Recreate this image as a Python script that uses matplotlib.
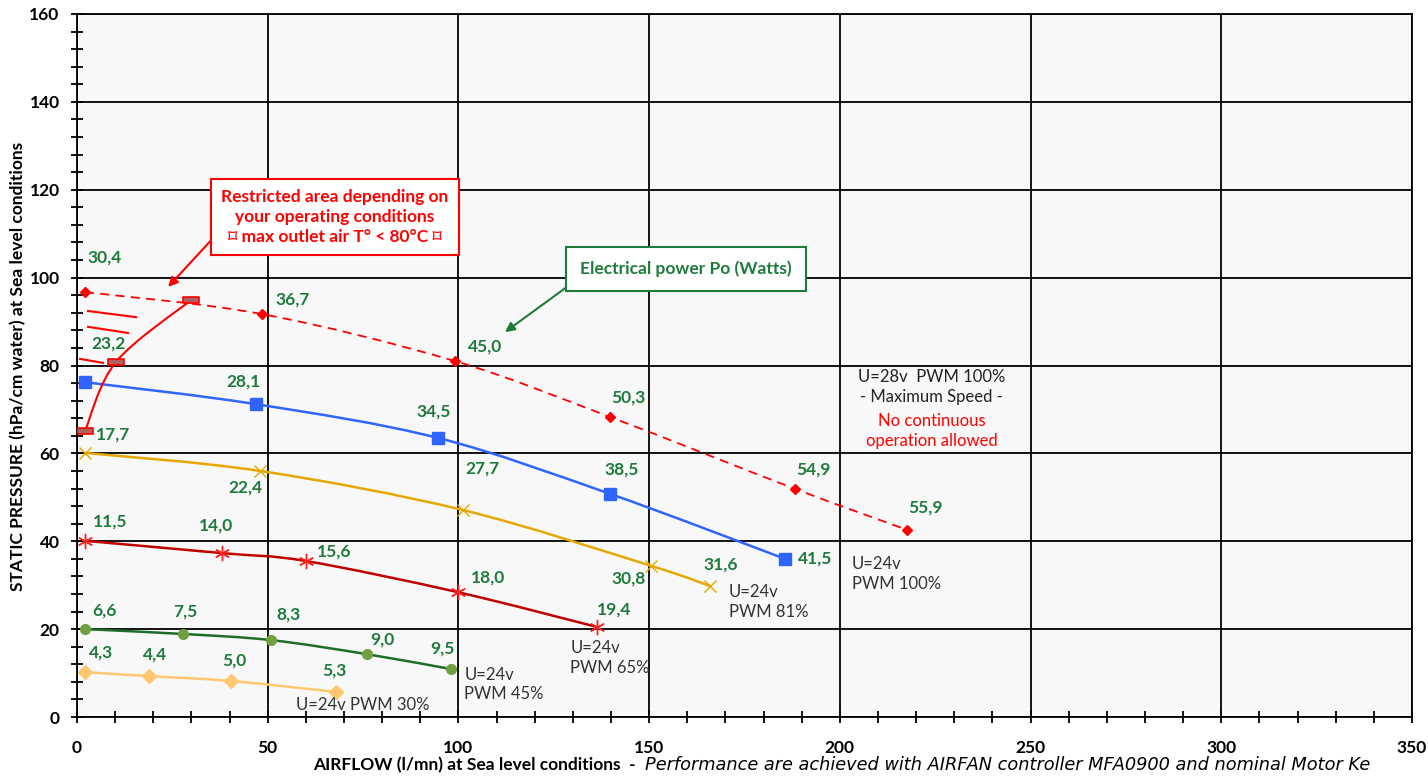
import numpy as np
import matplotlib
matplotlib.use("Agg")
import matplotlib.pyplot as plt
from matplotlib.path import Path
from matplotlib.patches import PathPatch

plt.rcParams['font.family'] = ['Lato', 'DejaVu Sans']

# --- data (airflow l/mn, static pressure hPa, electrical power W) ---
x28_100 = [2.1, 48.5, 99.1, 139.7, 188.3, 217.6]
y28_100 = [96.7, 91.7, 81.0, 68.3, 51.9, 42.6]
po28_100 = ["30,4", "36,7", "45,0", "50,3", "54,9", "55,9"]

x24_100 = [2.1, 46.9, 94.7, 139.7, 185.6]
y24_100 = [76.2, 71.2, 63.5, 50.8, 36.0]
po24_100 = ["23,2", "28,1", "34,5", "38,5", "41,5"]

x24_81 = [2.1, 48.0, 101.2, 150.5, 166.0]
y24_81 = [60.1, 56.0, 47.1, 34.4, 29.8]
po24_81 = ["17,7", "22,4", "27,7", "30,8", "31,6"]

x24_65 = [2.1, 38.0, 60.0, 99.9, 136.3]
y24_65 = [40.1, 37.3, 35.5, 28.4, 20.5]
po24_65 = ["11,5", "14,0", "15,6", "18,0", "19,4"]

x24_45 = [2.1, 27.8, 50.9, 76.0, 98.1]
y24_45 = [20.0, 18.9, 17.5, 14.3, 10.9]
po24_45 = ["6,6", "7,5", "8,3", "9,0", "9,5"]

x24_30 = [2.1, 18.9, 40.4, 67.9]
y24_30 = [10.2, 9.3, 8.2, 5.7]
po24_30 = ["4,3", "4,4", "5,0", "5,3"]

# restricted area limit curve
x_lim = [2.1, 10.2, 29.9]
y_lim = [65.1, 80.8, 94.9]

# label offsets in pixels (dx, dy)
off28_100 = [(20, 35), (31, 15), (30, 15), (19, 19), (18, 19), (18, 22)]
off24_100 = [(23, 39), (-12, 23), (-5, 26), (12, 24), (30, 0)]
off24_81 = [(28, 18), (-15, -17), (19, 42), (-22, -13), (11, 22)]
off24_65 = [(25, 19), (-6, 28), (28, 10), (30, 15), (17, 17)]
off24_45 = [(19, 19), (2, 22), (17, 26), (15, 15), (-9, 21)]
off24_30 = [(16, 20), (6, 22), (3, 20), (-2, 21)]

GREEN_TXT = '#1e7b3c'
FS = 12.5


def smooth_path(xs, ys):
    # excel-like smoothed line through the points (bezier)
    p = np.column_stack([xs, ys]).astype(float)
    n = len(p)
    verts = [p[0]]
    codes = [Path.MOVETO]
    for i in range(n - 1):
        p0 = p[i - 1] if i > 0 else p[i]
        p1, p2 = p[i], p[i + 1]
        p3 = p[i + 2] if i + 2 < n else p[i + 1]
        verts += [p1 + (p2 - p0) / 6, p2 - (p3 - p1) / 6, p2]
        codes += [Path.CURVE4] * 3
    return Path(verts, codes)


def curve(ax, xs, ys, lc, lw, ls='-', **mk):
    ax.add_patch(PathPatch(smooth_path(xs, ys), fill=False, edgecolor=lc,
                           lw=lw, ls=ls, zorder=3))
    ax.plot(xs, ys, ls='none', zorder=4, **mk)


def po_labels(ax, xs, ys, labels, offs):
    for x, y, t, (dx, dy) in zip(xs, ys, labels, offs):
        ax.annotate(t, (x, y), xytext=(dx, dy), textcoords='offset pixels',
                    ha='center', va='center', color=GREEN_TXT,
                    fontsize=FS, fontweight='bold', zorder=6)


fig = plt.figure(figsize=(14.28, 7.77), dpi=100)
ax = fig.add_axes([77 / 1428, 60 / 777, 1335 / 1428, 703 / 777])
ax.set_facecolor('#f8f8f8')

ax.set_xlim(0, 350)
ax.set_ylim(0, 160)
ax.set_xticks(np.arange(0, 351, 50))
ax.set_yticks(np.arange(0, 161, 20))
ax.set_xticks(np.arange(0, 351, 10), minor=True)
ax.set_yticks(np.arange(0, 161, 4), minor=True)
ax.grid(True, which='major', color='black', lw=1.3, zorder=1)
ax.set_axisbelow(True)
for s in ax.spines.values():
    s.set_linewidth(1.3)
    s.set_color('black')
ax.tick_params(which='both', direction='inout', length=9, width=1.3,
               top=False, right=False)
ax.tick_params(axis='x', which='major', pad=12)
ax.tick_params(axis='y', which='major', pad=8)
for lab in ax.get_xticklabels() + ax.get_yticklabels():
    lab.set_fontweight('bold')
    lab.set_fontsize(FS)

# curves
curve(ax, x28_100, y28_100, '#ff0000', 1.3, ls=(0, (5, 3.5)),
      marker='D', ms=5, color='#ff0000')
curve(ax, x24_100, y24_100, '#2f64ff', 1.8,
      marker='s', ms=8, color='#2f64ff')
curve(ax, x24_81, y24_81, '#e6a800', 1.8,
      marker='x', ms=9, mew=1.0, color='#e6a800')
curve(ax, x24_65, y24_65, '#c00000', 1.8,
      marker=(6, 2, 0), ms=11, mew=1.0, color='#ff2020')
curve(ax, x24_45, y24_45, '#1e6e2a', 1.8,
      marker='o', ms=7, color='#70a040')
curve(ax, x24_30, y24_30, '#ffc870', 1.8,
      marker='D', ms=7, color='#ffc870')

# restricted area limit
rect_mk = [(-3, -1), (3, -1), (3, 1), (-3, 1), (-3, -1)]
curve(ax, x_lim, y_lim, '#ff0000', 1.5,
      marker=rect_mk, ms=12, mfc='#b06060', mec='#ff0000', mew=1.2)
hatch = [((2.9, 92.4), (15.5, 91.0)), ((2.9, 88.8), (13.4, 87.4)),
         ((0.8, 81.5), (6.8, 80.6))]
for (a, b) in hatch:
    ax.plot([a[0], b[0]], [a[1], b[1]], color='#ff0000', lw=1.5, zorder=3)

po_labels(ax, x28_100, y28_100, po28_100, off28_100)
po_labels(ax, x24_100, y24_100, po24_100, off24_100)
po_labels(ax, x24_81, y24_81, po24_81, off24_81)
po_labels(ax, x24_65, y24_65, po24_65, off24_65)
po_labels(ax, x24_45, y24_45, po24_45, off24_45)
po_labels(ax, x24_30, y24_30, po24_30, off24_30)

# series captions
cap = dict(fontsize=12, color='#333333', ha='left', va='center',
           linespacing=1.3, zorder=6)
ax.text(57.4, 2.7, "U=24v PWM 30%", **cap)
ax.text(101.5, 7.4, "U=24v\nPWM 45%", **cap)
ax.text(129.3, 13.5, "U=24v\nPWM 65%", **cap)
ax.text(170.9, 26.2, "U=24v\nPWM 81%", **cap)
ax.text(203.2, 32.5, "U=24v\nPWM 100%", **cap)
ax.text(224.0, 75.1, "U=28v  PWM 100%\n- Maximum Speed -", fontsize=12,
        color='#222222', ha='center', va='center', linespacing=1.3)
ax.text(224.0, 65.0, "No continuous\noperation allowed", fontsize=12,
        color='#ff0000', ha='center', va='center', linespacing=1.3)

# callouts
ax.annotate("Restricted area depending on\nyour operating conditions\n"
            "\u2311 max outlet air T\u00b0 < 80\u00b0C \u2311",
            xy=(23.9, 97.9), xytext=(67.6, 113.8), fontsize=FS,
            fontweight='bold', color='#ff0000', ha='center', va='center',
            linespacing=1.3, zorder=7,
            bbox=dict(boxstyle='square,pad=0.6', fc='white', ec='#ff0000', lw=1.5),
            arrowprops=dict(arrowstyle='-|>', color='#ff0000', lw=1.5,
                            mutation_scale=14, shrinkA=0, shrinkB=0,
                            relpos=(0, 0.28)))
ax.annotate("Electrical power Po (Watts)", xy=(112.2, 87.6),
            xytext=(159.7, 102.0), fontsize=FS, fontweight='bold',
            color=GREEN_TXT, ha='center', va='center', zorder=7,
            bbox=dict(boxstyle='square,pad=0.8', fc='white', ec='#1e7b3c', lw=1.5),
            arrowprops=dict(arrowstyle='-|>', color='#1e7b3c', lw=1.5,
                            mutation_scale=14, shrinkA=0, shrinkB=0,
                            relpos=(0, 0)))

# axis titles
fig.text(18 / 1428, 1 - 366 / 777,
         "STATIC PRESSURE (hPa/cm water) at Sea level conditions",
         rotation=90, ha='center', va='center', fontsize=FS, fontweight='bold')
fig.text(313 / 1428, 1 - 765 / 777, "AIRFLOW (l/mn) at Sea level conditions  -",
         ha='left', va='center', fontsize=FS, fontweight='bold')
fig.text(645 / 1428, 1 - 765 / 777,
         "Performance are achieved with AIRFAN controller MFA0900 and nominal Motor Ke",
         ha='left', va='center', fontsize=12.8, style='italic',
         family=['DejaVu Sans'])

fig.savefig('out.png', dpi=100)
